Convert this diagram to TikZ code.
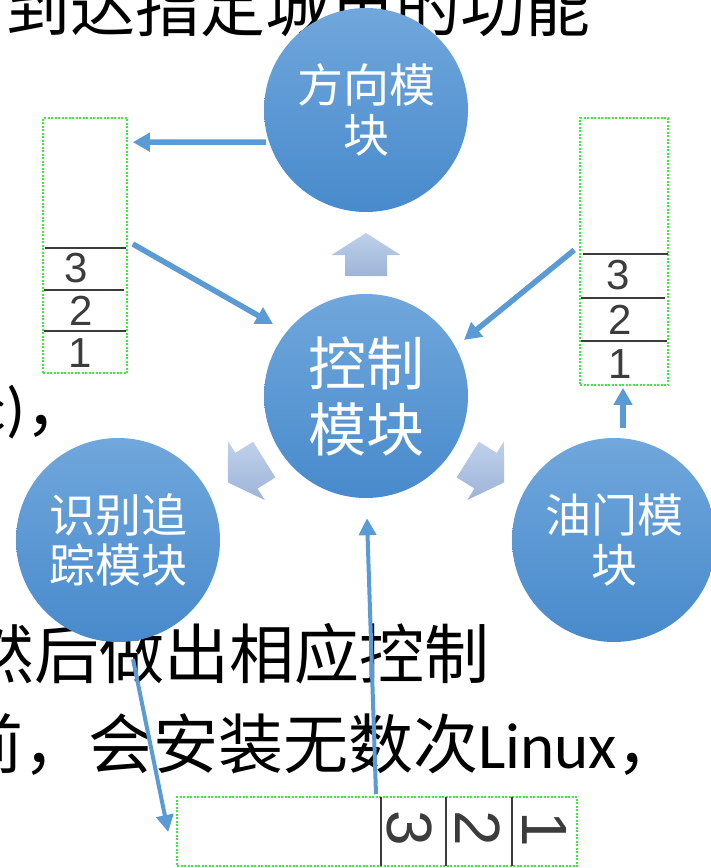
\documentclass[tikz,border=0pt]{standalone}
\usepackage{fontspec}
\newfontfamily\cjk{Noto Sans CJK SC}
\newfontfamily\lat{Carlito}
\newfontfamily\hand{Liberation Sans}
\usetikzlibrary{arrows.meta,calc}
\definecolor{linkblue}{RGB}{91,155,213}
\definecolor{ctop}{RGB}{112,167,220}
\definecolor{cbot}{RGB}{72,138,204}
\definecolor{atop}{RGB}{190,208,234}
\definecolor{abot}{RGB}{158,180,216}
\definecolor{gbox}{RGB}{60,235,60}
\definecolor{inkgray}{RGB}{60,60,60}
\begin{document}
\begin{tikzpicture}[x=1pt,y=-1pt,
  module/.style={circle, minimum size=204pt, inner sep=0pt, top color=ctop, bottom color=cbot, text=white, align=center},
  stackbox/.style={draw=gbox, dash pattern=on 2pt off 1.5pt, line width=1.6pt, inner sep=0pt},
  rule/.style={draw=inkgray, line width=1.5pt},
  link/.style={draw=linkblue, line width=5.5pt, -{Triangle[length=17pt,width=18pt]}},
  thinlink/.style={draw=linkblue, line width=4pt, -{Triangle[length=17pt,width=17pt]}},
  bg/.style={inner sep=0pt, anchor=base west, font=\cjk\fontsize{65}{65}\selectfont},
  digit/.style={inner sep=0pt, text=inkgray, font=\hand\fontsize{42}{42}\selectfont},
  bigdigit/.style={inner sep=0pt, text=inkgray, rotate=-90, font=\hand\fontsize{64}{64}\selectfont},
  blockarrow/.style={top color=atop, bottom color=abot, draw=none},
  smallmod/.style={font=\cjk\fontsize{46}{50}\selectfont},
  bigmod/.style={font=\cjk\fontsize{58}{66}\selectfont}
]
\useasboundingbox[fill=white] (0,0) rectangle (710,868);

% background slide text
\node[bg] (t1) at (5,31) {到达指定城市的功能};
\node[inner sep=0pt, anchor=base east, font=\lat\fontsize{62}{62}\selectfont] (t4) at (25,430) {c)};
\node[bg] (t5) at (25,430) {，};
\node[bg] (t2) at (-31,678) {然后做出相应控制};
\node[bg] (t3) at (-42,768) {前，会安装无数次{\lat Linux}，};

% modules
\node[module, smallmod] (dir) at (366,110) {方向模\\块};
\node[module, bigmod] (ctrl) at (366,396) {控制\\模块};
\node[module, smallmod] (rec) at (118,540) {识别追\\踪模块};
\node[module, smallmod] (thr) at (614,540) {油门模\\块};

% block arrows around the control module
\foreach \a in {90,212,-32} {
  \path[blockarrow, shift={(ctrl.center)}, rotate=\a]
    (120,21) -- (141,21) -- (141,34.5) -- (163,0) -- (141,-34.5) -- (141,-21) -- (120,-21) -- cycle;
}

% stacks
\node[stackbox, minimum width=84pt, minimum height=255pt] (lbox) at (85,245.5) {};
\draw[rule] (45,248) -- (126,248);
\draw[rule] (44,290) -- (124,290);
\draw[rule] (44,331) -- (126,331);
\node[digit] (l3) at (76,268) {3};
\node[digit] (l2) at (81,311) {2};
\node[digit] (l1) at (80,353) {1};

\node[stackbox, minimum width=88pt, minimum height=267pt] (rbox) at (624,251.5) {};
\draw[rule] (583,254) -- (668,254);
\draw[rule] (581,298) -- (665,298);
\draw[rule] (581,341) -- (667,341);
\node[digit] (r3) at (618,275) {3};
\node[digit] (r2) at (620,320) {2};
\node[digit] (r1) at (620,364) {1};

\node[stackbox, minimum width=400pt, minimum height=69pt] (bbox) at (377,831.5) {};
\draw[rule] (381,797) -- (381,866);
\draw[rule] (446,797) -- (446,866);
\draw[rule] (512,797) -- (512,866);
\node[bigdigit] (b3) at (410,828) {3};
\node[bigdigit] (b2) at (478,828) {2};
\node[bigdigit] (b1) at (545,829) {1};

% connectors
\draw[link] ($(dir.center)+(-100,32)$) -- ($(lbox.north east)+(5,25)$);
\draw[link] ($(lbox.east)+(5,-1.5)$) -- ($(ctrl.center)+(-93,-72)$);
\draw[link] ($(rbox.west)+(-5,-1.5)$) -- ($(ctrl.center)+(98,-56)$);
\draw[link] ($(thr.north)+(9,-10)$) -- ($(rbox.south)+(-1,2)$);
\draw[thinlink] ($(bbox.north)+(-1,-2)$) -- ($(ctrl.south)+(1,20)$);
\draw[thinlink] ($(rec.south)+(15,17)$) -- ($(bbox.west)+(-8,0.5)$);
\end{tikzpicture}
\end{document}
